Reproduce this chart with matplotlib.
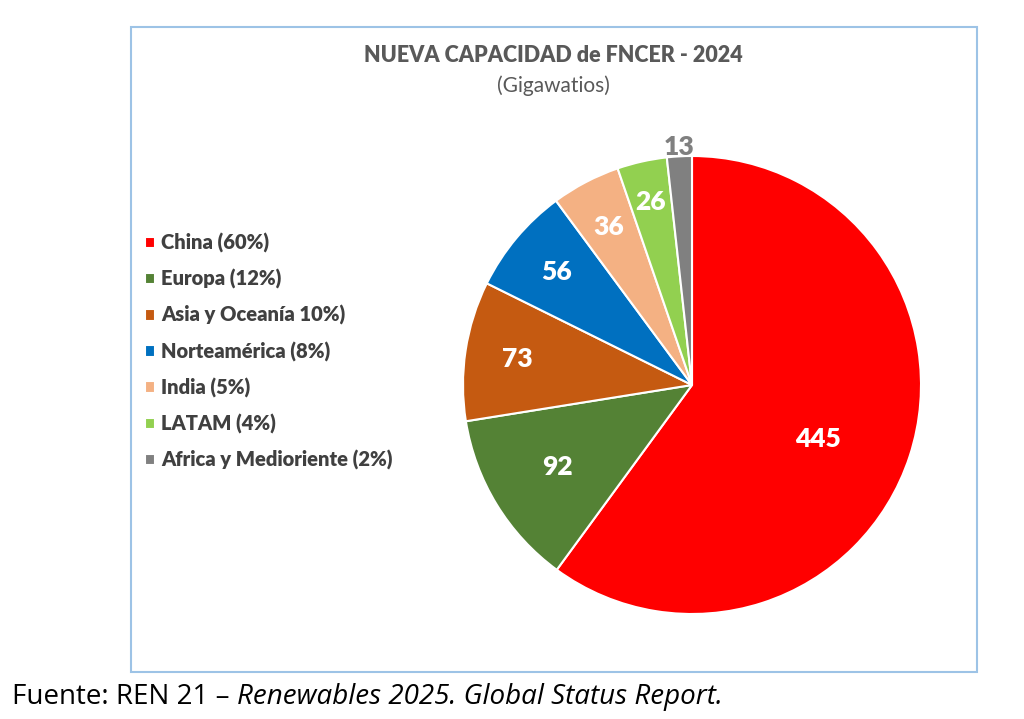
import matplotlib.pyplot as plt
import numpy as np
from matplotlib.patches import Rectangle

regiones = ['China (60%)', 'Europa (12%)', 'Asia y Oceanía 10%)', 'Norteamérica (8%)',
            'India (5%)', 'LATAM (4%)', 'Africa y Medioriente (2%)']
valores = [445, 92, 73, 56, 36, 26, 13]
colores = ['#FF0000', '#548235', '#C55A11', '#0070C0', '#F4B183', '#92D050', '#808080']
# radial position of each value label (fraction of radius)
dist_etiq = [0.60, 0.69, 0.77, 0.77, 0.78, 0.82, 1.04]
color_etiq = ['white'] * 6 + ['#808080']

plt.rcParams['font.family'] = ['Lato', 'DejaVu Sans']

fig = plt.figure(figsize=(10.24, 7.19), dpi=100)
W, H = 1024, 719

# frame around the chart
fig.patches.append(Rectangle((131 / W, 1 - 672 / H), (977 - 131) / W, (672 - 27) / H,
                             transform=fig.transFigure, fill=False,
                             edgecolor='#9DC3E6', linewidth=1.5))

cx, cy, r = 692, 385, 229
ax = fig.add_axes([(cx - r) / W, 1 - (cy + r) / H, 2 * r / W, 2 * r / H])
wedges, _ = ax.pie(valores, colors=colores, startangle=90, counterclock=False,
                   wedgeprops=dict(edgecolor='white', linewidth=1.5))
ax.set_xlim(-1, 1)
ax.set_ylim(-1, 1)
ax.set_aspect('equal')

for w, v, d, c in zip(wedges, valores, dist_etiq, color_etiq):
    ang = np.deg2rad((w.theta1 + w.theta2) / 2)
    if v == 445:
        ang -= np.deg2rad(5)
    ax.text(d * np.cos(ang), d * np.sin(ang), str(v), ha='center', va='center',
            fontsize=19, fontweight='heavy', color=c)

fig.text(553 / W, 1 - 55 / H, 'NUEVA CAPACIDAD de FNCER - 2024', ha='center', va='center',
         fontsize=15.5, fontweight='heavy', color='#595959')
fig.text(553 / W, 1 - 86 / H, '(Gigawatios)', ha='center', va='center',
         fontsize=15, color='#595959')

leg = fig.legend(wedges, regiones, loc='upper left', bbox_to_anchor=(127 / W, 1 - 215 / H),
                 frameon=False, handlelength=0.5, handleheight=0.5, handletextpad=0.3,
                 labelspacing=0.8, fontsize=14.5)
for t in leg.get_texts():
    t.set_color('#404040')
    t.set_fontweight('heavy')

# source line
t1 = fig.text(12 / W, 1 - 697 / H, 'Fuente: REN 21 – ', ha='left', va='center',
              fontsize=20, color='black', family=['Open Sans', 'DejaVu Sans'])
fig.canvas.draw()
bb = t1.get_window_extent()
fig.text(bb.x1 / W, 1 - 697 / H, 'Renewables 2025. Global Status Report.', ha='left',
         va='center', fontsize=20, style='italic', color='black',
         family=['Open Sans', 'DejaVu Sans'])

fig.savefig('out.png', dpi=100)
